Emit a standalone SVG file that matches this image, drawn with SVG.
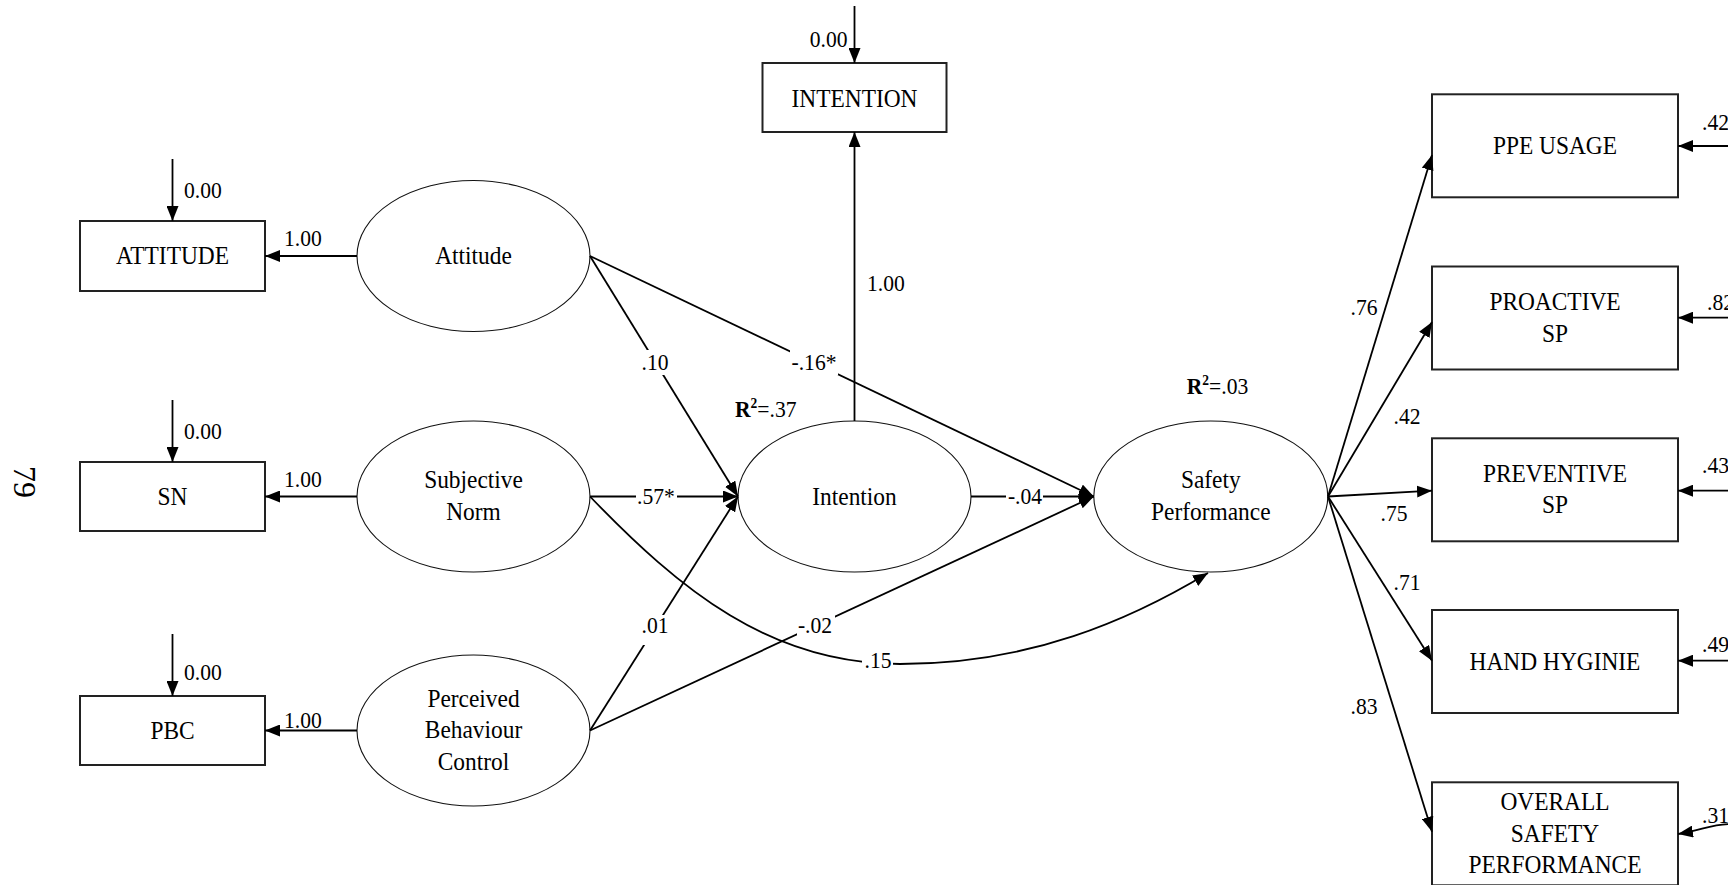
<svg xmlns="http://www.w3.org/2000/svg" width="1728" height="885" viewBox="0 0 1728 885">
<defs>
<marker id="ah" markerUnits="userSpaceOnUse" markerWidth="16" markerHeight="12" refX="15" refY="6" orient="auto">
<path d="M0,0 L15,6 L0,12 z" fill="#000"/>
</marker>
<style>
.box{fill:#fff;stroke:#222;stroke-width:2}
.ell{fill:#fff;stroke:#111;stroke-width:1.1}
.c{fill:none;stroke:#000;stroke-width:1.8;marker-end:url(#ah)}
.lb{fill:#fff;stroke:none}
text{font-family:"Liberation Serif","Times New Roman",serif;fill:#000}
.n{font-size:26px;text-anchor:middle}
.l{font-size:24px}
.lm{font-size:24px;text-anchor:middle}
.le{font-size:24px;text-anchor:end}
.b{font-weight:bold}
</style>
</defs>
<rect width="1728" height="885" fill="#fff"/>
<text transform="translate(14,482) rotate(90)" font-size="32" text-anchor="middle">79</text>

<g id="n-attitude-box"><rect class="box" x="80" y="221" width="185" height="70"/><text class="n" transform="translate(172.5,264) scale(0.9,1)">ATTITUDE</text></g>
<g id="n-sn-box"><rect class="box" x="80" y="462" width="185" height="69"/><text class="n" transform="translate(172.5,505) scale(0.9,1)">SN</text></g>
<g id="n-pbc-box"><rect class="box" x="80" y="696" width="185" height="69"/><text class="n" transform="translate(172.5,738.5) scale(0.9,1)">PBC</text></g>
<g id="n-intention-box"><rect class="box" x="762.5" y="63" width="184" height="69"/><text class="n" transform="translate(854.5,106.5) scale(0.9,1)">INTENTION</text></g>

<g id="n-attitude"><ellipse class="ell" cx="473.5" cy="256" rx="116.5" ry="75.5"/><text class="n" transform="translate(473.5,264) scale(0.9,1)">Attitude</text></g>
<g id="n-sn"><ellipse class="ell" cx="473.5" cy="496.5" rx="116.5" ry="75.5"/><text class="n" transform="translate(473.5,488.3) scale(0.9,1)"><tspan x="0">Subjective</tspan><tspan x="0" dy="31.7">Norm</tspan></text></g>
<g id="n-pbc"><ellipse class="ell" cx="473.5" cy="730.5" rx="116.5" ry="75.5"/><text class="n" transform="translate(473.5,707) scale(0.9,1)"><tspan x="0">Perceived</tspan><tspan x="0" dy="31.5">Behaviour</tspan><tspan x="0" dy="31.5">Control</tspan></text></g>
<g id="n-intention"><ellipse class="ell" cx="854.5" cy="496.5" rx="116.5" ry="75.5"/><text class="n" transform="translate(854.5,505) scale(0.9,1)">Intention</text></g>
<g id="n-safety"><ellipse class="ell" cx="1210.8" cy="496.5" rx="117" ry="75.5"/><text class="n" transform="translate(1210.8,488.3) scale(0.9,1)"><tspan x="0">Safety</tspan><tspan x="0" dy="31.7">Performance</tspan></text></g>

<g id="n-ppe"><rect class="box" x="1432" y="94.3" width="246" height="103"/><text class="n" transform="translate(1555,154.3) scale(0.9,1)">PPE USAGE</text></g>
<g id="n-proactive"><rect class="box" x="1432" y="266.5" width="246" height="103"/><text class="n" transform="translate(1555,310) scale(0.9,1)"><tspan x="0">PROACTIVE</tspan><tspan x="0" dy="31.7">SP</tspan></text></g>
<g id="n-preventive"><rect class="box" x="1432" y="438.3" width="246" height="103"/><text class="n" transform="translate(1555,481.7) scale(0.9,1)"><tspan x="0">PREVENTIVE</tspan><tspan x="0" dy="31.7">SP</tspan></text></g>
<g id="n-hand"><rect class="box" x="1432" y="610" width="246" height="103"/><text class="n" transform="translate(1555,670) scale(0.9,1)">HAND HYGINIE</text></g>
<g id="n-overall"><rect class="box" x="1432" y="782.3" width="246" height="103"/><text class="n" transform="translate(1555,810) scale(0.9,1)"><tspan x="0">OVERALL</tspan><tspan x="0" dy="31.7">SAFETY</tspan><tspan x="0" dy="31.7">PERFORMANCE</tspan></text></g>

<g id="connectors">
<path class="c" d="M357,256 L265,256"/>
<path class="c" d="M357,496.5 L265,496.5"/>
<path class="c" d="M357,730.5 L265,730.5"/>
<path class="c" d="M172.5,159 L172.5,221"/>
<path class="c" d="M172.5,400 L172.5,462"/>
<path class="c" d="M172.5,634 L172.5,696"/>
<path class="c" d="M854.5,6 L854.5,63"/>
<path class="c" d="M854.5,421 L854.5,132"/>
<path class="c" d="M590,256 L738,496.5"/>
<path class="c" d="M590,256 L1093.8,496.5"/>
<path class="c" d="M590,496.5 L738,496.5"/>
<path class="c" d="M590,730.5 L738,496.5"/>
<path class="c" d="M590,730.5 L1093.8,496.5"/>
<path class="c" d="M971,496.5 L1093.8,496.5"/>
<path class="c" d="M590,496.5 C680,590 770,664 900,664 C1030,664 1130,620 1208,573"/>
<path class="c" d="M1328,496.5 L1432,155"/>
<path class="c" d="M1328,496.5 L1432,322"/>
<path class="c" d="M1328,496.5 L1432,490.7"/>
<path class="c" d="M1328,496.5 L1432,660.7"/>
<path class="c" d="M1328,496.5 L1432,831.7"/>
<path class="c" d="M1730,146 L1678,146"/>
<path class="c" d="M1730,317.7 L1678,317.7"/>
<path class="c" d="M1730,490.7 L1678,490.7"/>
<path class="c" d="M1730,660.7 L1678,660.7"/>
<path class="c" d="M1730,824 C1712,824 1702,830 1678,834"/>
</g>

<g id="label-bg">
<rect class="lb" x="640" y="350" width="31" height="25"/>
<rect class="lb" x="790" y="349" width="48" height="26"/>
<rect class="lb" x="636" y="486" width="41" height="20"/>
<rect class="lb" x="1006" y="486" width="37" height="20"/>
<rect class="lb" x="641" y="615" width="30" height="30"/>
<rect class="lb" x="797" y="615" width="38" height="21"/>
<rect class="lb" x="862" y="650" width="31" height="21"/>
</g>

<g id="labels">
<text class="l" transform="translate(184,198) scale(0.9,1)">0.00</text>
<text class="l" transform="translate(184,439) scale(0.9,1)">0.00</text>
<text class="l" transform="translate(184,680) scale(0.9,1)">0.00</text>
<text class="l" transform="translate(284,246) scale(0.9,1)">1.00</text>
<text class="l" transform="translate(284,487) scale(0.9,1)">1.00</text>
<text class="l" transform="translate(284,728) scale(0.9,1)">1.00</text>
<text class="le" transform="translate(847.5,47) scale(0.9,1)">0.00</text>
<text class="l" transform="translate(867,291) scale(0.9,1)">1.00</text>
<text class="l" transform="translate(735,417) scale(0.9,1)"><tspan class="b">R</tspan><tspan class="b" font-size="15" dy="-9">2</tspan><tspan dy="9">=.37</tspan></text>
<text class="l" transform="translate(1186.7,394) scale(0.9,1)"><tspan class="b">R</tspan><tspan class="b" font-size="15" dy="-9">2</tspan><tspan dy="9">=.03</tspan></text>
<text class="lm" transform="translate(655,370) scale(0.9,1)">.10</text>
<text class="lm" transform="translate(814,370) scale(0.9,1)">-.16*</text>
<text class="lm" transform="translate(656,504) scale(0.9,1)">.57*</text>
<text class="lm" transform="translate(1025,504) scale(0.9,1)">-.04</text>
<text class="lm" transform="translate(655,633) scale(0.9,1)">.01</text>
<text class="lm" transform="translate(815,633) scale(0.9,1)">-.02</text>
<text class="lm" transform="translate(878,668) scale(0.9,1)">.15</text>
<text class="lm" transform="translate(1364,315) scale(0.9,1)">.76</text>
<text class="lm" transform="translate(1407,424) scale(0.9,1)">.42</text>
<text class="lm" transform="translate(1394,520.7) scale(0.9,1)">.75</text>
<text class="lm" transform="translate(1407,590) scale(0.9,1)">.71</text>
<text class="lm" transform="translate(1364,714) scale(0.9,1)">.83</text>
<text class="l" transform="translate(1702,130) scale(0.9,1)">.42</text>
<text class="l" transform="translate(1707,310) scale(0.9,1)">.82</text>
<text class="l" transform="translate(1702,473) scale(0.9,1)">.43</text>
<text class="l" transform="translate(1702,652) scale(0.9,1)">.49</text>
<text class="l" transform="translate(1702,823) scale(0.9,1)">.31</text>
</g>
</svg>
